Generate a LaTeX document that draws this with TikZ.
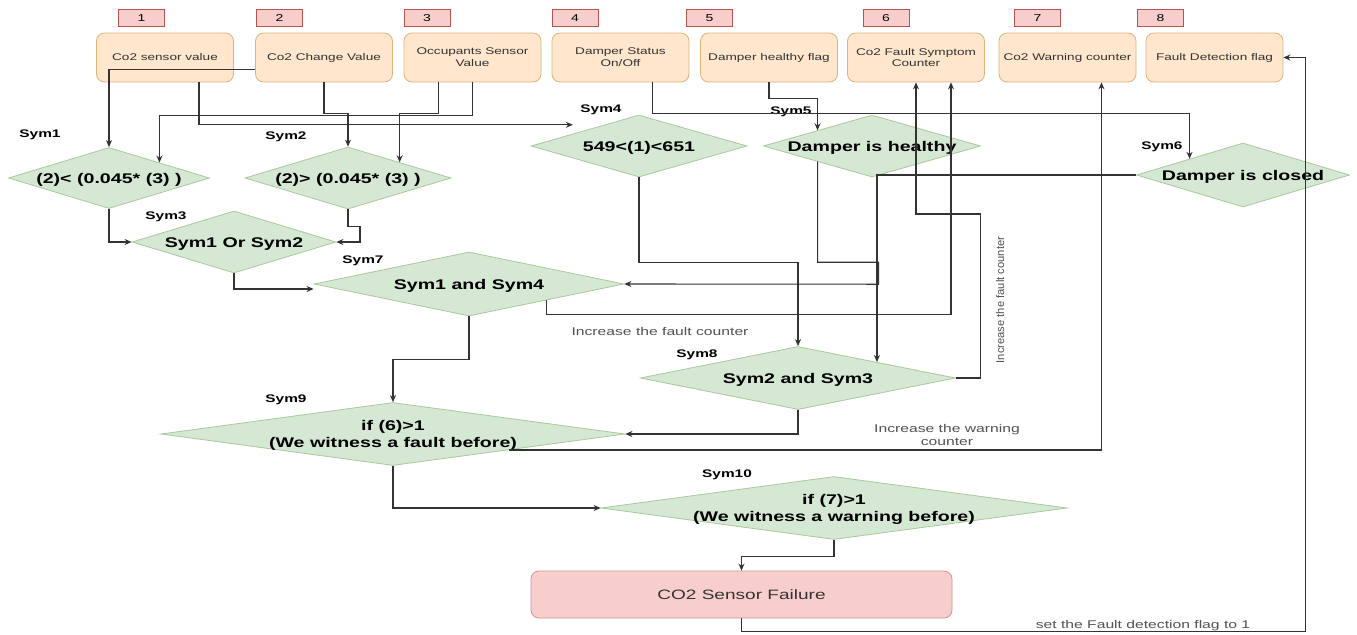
\documentclass[tikz,border=0pt]{standalone}
\usepackage{fontspec}
\setmainfont{Liberation Sans}[FakeStretch=1.4]
\newfontfamily\uprightsans{Liberation Sans}
\usetikzlibrary{shapes.geometric, arrows.meta}

\definecolor{numfill}{HTML}{F8CECC}
\definecolor{numline}{HTML}{B85450}
\definecolor{boxfill}{HTML}{FFE6CC}
\definecolor{boxline}{HTML}{DDB47A}
\definecolor{symfill}{HTML}{D5E8D4}
\definecolor{symline}{HTML}{A9C99B}
\definecolor{failfill}{HTML}{F8CECC}
\definecolor{failline}{HTML}{D49390}
\definecolor{wire}{HTML}{333333}

\newcommand{\dtx}[1]{\makebox[0pt]{\raisebox{-.37em}[0pt][0pt]{\begin{tabular}{@{}c@{}}#1\end{tabular}}}}

\tikzset{
	numbox/.style={draw=numline, fill=numfill, minimum width=23pt, minimum height=8.5pt, inner sep=0pt, font=\fontsize{5}{6}\selectfont},
	inbox/.style={draw=boxline, fill=boxfill, rounded corners=4pt, minimum width=68.5pt, minimum height=24.5pt, inner sep=0pt, align=center, text=wire, font=\fontsize{4.85}{5.85}\selectfont},
	sym/.style={diamond, draw=symline, fill=symfill, inner sep=0pt, font=\bfseries\fontsize{7}{8.5}\selectfont},
	symname/.style={font=\bfseries\fontsize{5.5}{6.6}\selectfont},
	failbox/.style={draw=failline, fill=failfill, rounded corners=4pt, minimum width=210.5pt, minimum height=23.5pt, text=wire, font=\fontsize{6.8}{8}\selectfont},
	note/.style={text=wire!85, font=\fontsize{5.6}{6.7}\selectfont, align=center},
	wirearrow/.style={draw=wire, line width=.55pt, -{Stealth[length=3.5pt,width=3pt]}},
}

\begin{document}
\begin{tikzpicture}[x=0.5pt, y=-0.5pt]
	\path[use as bounding box, fill=white] (0,0) rectangle (1357,634);

	\node[numbox] (n1) at (141.5,18) {1};
	\node[numbox] (n2) at (279.5,18) {2};
	\node[numbox] (n3) at (427,18) {3};
	\node[numbox] (n4) at (575,18) {4};
	\node[numbox] (n5) at (709.5,18) {5};
	\node[numbox] (n6) at (886,18) {6};
	\node[numbox] (n7) at (1037.5,18) {7};
	\node[numbox] (n8) at (1160.5,18) {8};

	\node[inbox] (sensor) at (165,57.5) {Co2 sensor value};
	\node[inbox] (change) at (324,57.5) {Co2 Change Value};
	\node[inbox] (occup) at (472.5,57.5) {Occupants Sensor\\Value};
	\node[inbox] (status) at (620.5,57.5) {Damper Status\\On/Off};
	\node[inbox] (healthy) at (769,57.5) {Damper healthy flag};
	\node[inbox] (fsc) at (916,57.5) {Co2 Fault Symptom\\Counter};
	\node[inbox] (warn) at (1067.5,57.5) {Co2 Warning counter};
	\node[inbox] (flag) at (1214.5,57.5) {Fault Detection flag};

	% symptoms
	\node[sym, minimum width=100.5pt, minimum height=30.5pt] (s1) at (109,178) {\dtx{(2)< (0.045* (3) )}};
	\node[sym, minimum width=103pt, minimum height=31pt] (s2) at (348,178) {\dtx{(2)> (0.045* (3) )}};
	\node[sym, minimum width=102pt, minimum height=31pt] (s3) at (234,242) {\dtx{Sym1 Or Sym2}};
	\node[sym, minimum width=108pt, minimum height=31pt] (s4) at (639,146) {\dtx{549<(1)<651}};
	\node[sym, minimum width=108.5pt, minimum height=31pt] (s5) at (872,146) {\dtx{Damper is healthy}};
	\node[sym, minimum width=106.5pt, minimum height=32pt] (s6) at (1243,175) {\dtx{Damper is closed}};
	\node[sym, minimum width=155pt, minimum height=32pt] (s7) at (469,284) {\dtx{Sym1 and Sym4}};
	\node[sym, minimum width=157.5pt, minimum height=31.5pt] (s8) at (798,378) {\dtx{Sym2 and Sym3}};
	\node[sym, minimum width=232pt, minimum height=31.5pt] (s9) at (393,434) {\dtx{if (6)>1\\(We witness a fault before)}};
	\node[sym, minimum width=233pt, minimum height=31.5pt] (s10) at (834,508) {\dtx{if (7)>1\\(We witness a warning before)}};
	\node[failbox] (fail) at (741.5,594.5) {CO2 Sensor Failure};

	\node[symname] (l1) at (40,135) {Sym1};
	\node[symname] (l2) at (286,137) {Sym2};
	\node[symname] (l3) at (166,217) {Sym3};
	\node[symname] (l4) at (601,110) {Sym4};
	\node[symname] (l5) at (791,112) {Sym5};
	\node[symname] (l6) at (1162,147) {Sym6};
	\node[symname] (l7) at (363,261) {Sym7};
	\node[symname] (l8) at (697,355) {Sym8};
	\node[symname] (l9) at (286,400) {Sym9};
	\node[symname] (l10) at (727,475) {Sym10};

	\node[note] (t1) at (660,331) {Increase the fault counter};
	\node[note, rotate=90, font=\uprightsans\fontsize{5.6}{6.7}\selectfont] (t2) at (1000,300) {Increase the fault counter};
	\node[note] (t3) at (947,435) {Increase the warning\\counter};
	\node[note] (t4) at (1143,626) {set the Fault detection flag to 1};

	% inputs into the symptoms
	\draw[wirearrow] ([yshift=-6pt]change.west) -| (s1.north);
	\draw[wirearrow] ([xshift=17pt]sensor.south) |- ([xshift=-6pt,yshift=2.75pt]s4.north west);
	\draw[wirearrow] (change.south) -- ++(0,31) -| (s2.north);
	\draw[wirearrow] ([xshift=-17pt]occup.south) -- ++(0,31) -| (s2.north east);
	\draw[wirearrow] (occup.south) -- ++(0,33) -| (s1.north east);
	\draw[wirearrow] ([xshift=16pt]status.south) -- ++(0,31) -| (s6.north west);
	\draw[wirearrow] (healthy.south) -- ++(0,16) -| (s5.north west);

	% symptoms chained
	\draw[wirearrow] (s1.south) |- (s3.west);
	\draw[wirearrow] (s2.south) -- ++(0,17) -- ++(12,0) |- (s3.east);
	\draw[wirearrow] (s3.south) |- ([yshift=-2.5pt]s7.west);
	\draw[wirearrow] (s4.south) -- ++(0,85) -| (s8.north);
	\draw[wirearrow] (s5.south west) -- ++(0,100.5) -- ++(61,0) -- ++(0,22) -- (s7.east);
	\draw[wirearrow] (s6.west) -| (s8.north east);
	\draw[wirearrow] (s7.south east) -- ++(0,14) -| ([xshift=17.5pt]fsc.south);
	\draw[wirearrow] (s8.east) -- ++(25,0) -- ++(0,-164) -| (fsc.south);
	\draw[wirearrow] (s7.south) -- ++(0,43) -| (s9.north);
	\draw[wirearrow] (s8.south) |- (s9.east);
	\draw[wirearrow] (s9.south east) -| ([xshift=17pt]warn.south);
	\draw[wirearrow] (s9.south) |- (s10.west);
	\draw[wirearrow] (s10.south) -- ++(0,17) -| (fail.north);
	\draw[wirearrow] (fail.south) -- ++(0,13) -| ([xshift=11pt]flag.east) -- (flag.east);
\end{tikzpicture}
\end{document}
